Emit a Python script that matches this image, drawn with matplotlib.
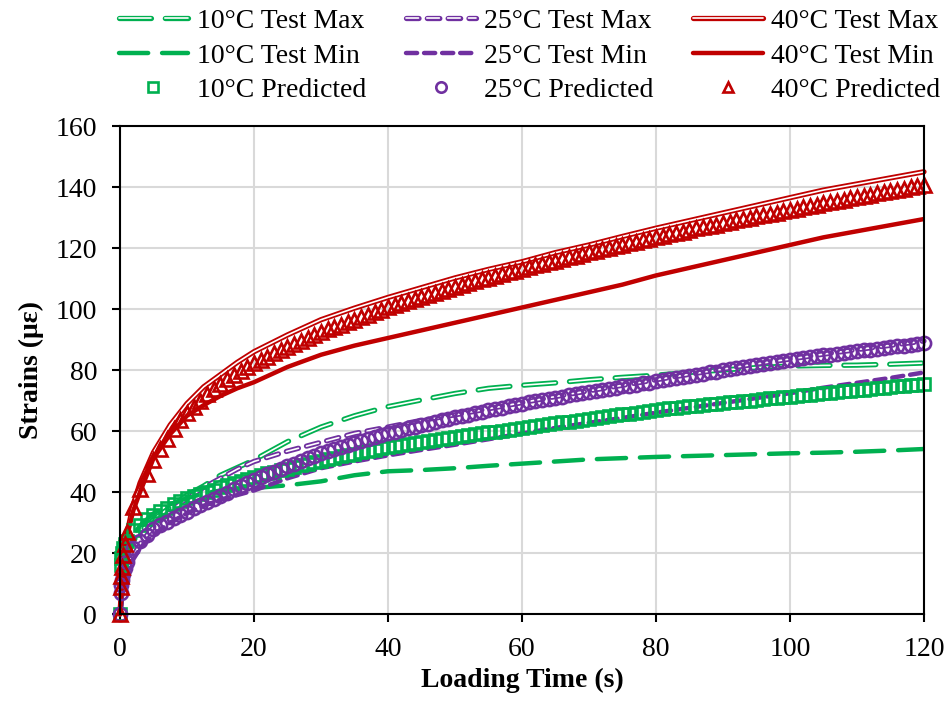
import numpy as np
import matplotlib
matplotlib.use("Agg")
import matplotlib.pyplot as plt

plt.rcParams['font.family'] = ['Liberation Serif', 'DejaVu Serif']
plt.rcParams['lines.scale_dashes'] = False

# test curves (s, microstrain)
t_test = [0, 0.5, 1, 2, 3, 5, 7.5, 10, 12.5, 15, 17.5, 20, 25, 30, 35, 40, 45, 50,
          55, 60, 65, 70, 75, 80, 85, 90, 95, 100, 105, 110, 115, 120]

max10 = [0, 14, 19, 24, 27, 31, 35, 39, 42, 45.5, 48, 50.5, 56.5, 61.3, 65, 68, 70.2, 72.3,
         74, 75, 75.8, 76.8, 77.6, 78.3, 79.2, 80, 80.8, 81.3, 81.5, 81.6, 81.9, 82.3]
min10 = [0, 15, 20, 26, 29, 33, 36, 38, 39.5, 40.5, 41, 41.3, 42.2, 43.5, 45.5, 46.8, 47.2, 47.8,
         48.6, 49.3, 50, 50.7, 51.1, 51.5, 51.8, 52.1, 52.4, 52.7, 52.9, 53.2, 53.6, 54.1]
max25 = [0, 10, 14, 19, 23, 28.5, 33.5, 38, 41.5, 44.5, 47.5, 50, 53.4, 56.3, 59.2, 61.3, 63.5, 65.3,
         67.3, 69.3, 71.3, 73.2, 75, 76.8, 78.6, 80.3, 82, 83.6, 85.2, 86.7, 88.1, 89.5]
min25 = [0, 9, 13, 18, 21.5, 26, 30, 33, 35.5, 37.5, 39, 40.5, 44.5, 47.8, 50, 52, 53.8, 55.5,
         57.3, 59.2, 61, 62.7, 64.3, 66, 67.6, 69.2, 70.8, 72.4, 74.2, 75.8, 77.4, 79.2]
max40 = [0, 18, 26, 36, 43, 53, 62, 69, 74.5, 78.5, 82.5, 86, 91.5, 96.5, 100.3, 103.8, 107, 110.2,
         113, 115.5, 118.5, 121, 123.8, 126.5, 129, 131.5, 134, 136.5, 139, 141, 143, 145]
min40 = [0, 17, 25, 34, 40, 51, 59, 65, 68.5, 71.5, 74, 76, 81, 85, 88, 90.5, 93, 95.5,
         98, 100.5, 103, 105.5, 108, 111, 113.5, 116, 118.5, 121, 123.5, 125.5, 127.5, 129.5]

# predicted curves
t_pred = [0, 0.1, 0.2, 0.3, 0.5, 0.7] + list(range(1, 121))

pred10 = [0, 16, 18.5, 20, 21.5, 23,
          24, 27.5, 29.3, 31, 32.5, 33.7, 34.8, 36.0, 37.0, 38.0,
          38.7, 39.4, 40.1, 40.8, 41.5, 42.2, 42.9, 43.6, 44.3, 45.0,
          45.5, 46.1, 46.6, 47.1, 47.7, 48.2, 48.7, 49.2, 49.8, 50.3,
          50.8, 51.2, 51.7, 52.1, 52.6, 53.0, 53.5, 53.9, 54.4, 54.8,
          55.1, 55.5, 55.8, 56.1, 56.5, 56.8, 57.1, 57.4, 57.8, 58.1,
          58.4, 58.7, 59.0, 59.3, 59.6, 59.8, 60.1, 60.4, 60.7, 61.0,
          61.3, 61.6, 61.9, 62.2, 62.5, 62.8, 63.1, 63.4, 63.7, 64.0,
          64.3, 64.6, 64.9, 65.2, 65.5, 65.7, 66.0, 66.3, 66.6, 66.9,
          67.1, 67.4, 67.6, 67.8, 68.1, 68.3, 68.5, 68.7, 69.0, 69.2,
          69.4, 69.6, 69.8, 70.0, 70.3, 70.5, 70.7, 70.9, 71.1, 71.3,
          71.5, 71.7, 71.9, 72.1, 72.4, 72.6, 72.8, 73.0, 73.2, 73.4,
          73.6, 73.8, 74.0, 74.2, 74.4, 74.6, 74.8, 75.0, 75.2, 75.4]

pred25 = [0, 7, 9.5, 11, 13, 15,
          17, 21.5, 24, 26, 28, 29.2, 30.3, 31.4, 32.4, 33.5,
          34.6, 35.6, 36.7, 37.7, 38.8, 39.8, 40.9, 41.9, 43.0, 44.0,
          44.9, 45.8, 46.6, 47.5, 48.4, 49.3, 50.2, 51.0, 51.9, 52.8,
          53.5, 54.1, 54.8, 55.4, 56.1, 56.7, 57.4, 58.0, 58.7, 59.3,
          59.8, 60.3, 60.9, 61.4, 61.9, 62.4, 62.9, 63.5, 64.0, 64.5,
          65.0, 65.4, 65.9, 66.3, 66.8, 67.2, 67.7, 68.1, 68.6, 69.0,
          69.4, 69.8, 70.1, 70.5, 70.9, 71.3, 71.7, 72.0, 72.4, 72.8,
          73.2, 73.5, 73.9, 74.2, 74.6, 74.9, 75.2, 75.6, 75.9, 76.3,
          76.7, 77.0, 77.4, 77.7, 78.1, 78.5, 78.8, 79.2, 79.5, 79.9,
          80.2, 80.6, 80.9, 81.3, 81.6, 81.9, 82.3, 82.6, 83.0, 83.3,
          83.6, 83.9, 84.2, 84.5, 84.8, 85.0, 85.3, 85.6, 85.9, 86.2,
          86.5, 86.7, 87.0, 87.2, 87.5, 87.8, 88.0, 88.3, 88.5, 88.8]

pred40 = [0, 9, 12.5, 15.5, 19.5, 23,
          27, 35, 41, 46, 50.5, 54, 57.5, 60.5, 63.5, 66,
          68, 70, 72, 73.8, 75.5, 77, 78.5, 79.8, 81, 82.2,
          83.3, 84.4, 85.5, 86.5, 87.6, 88.6, 89.6, 90.6, 91.6, 92.5,
          93.3, 94.1, 94.9, 95.7, 96.5, 97.3, 98.1, 98.9, 99.7, 100.5,
          101.2, 101.9, 102.5, 103.2, 103.9, 104.6, 105.3, 105.9, 106.6, 107.3,
          107.9, 108.5, 109.1, 109.7, 110.3, 110.8, 111.4, 112.0, 112.6, 113.2,
          113.7, 114.3, 114.8, 115.4, 115.9, 116.4, 117.0, 117.5, 118.1, 118.6,
          119.1, 119.6, 120.1, 120.6, 121.1, 121.6, 122.1, 122.6, 123.1, 123.6,
          124.1, 124.5, 125.0, 125.4, 125.9, 126.4, 126.8, 127.3, 127.7, 128.2,
          128.6, 129.1, 129.5, 129.9, 130.4, 130.8, 131.2, 131.6, 132.1, 132.5,
          132.9, 133.3, 133.8, 134.2, 134.6, 135.0, 135.4, 135.9, 136.3, 136.7,
          137.1, 137.5, 137.9, 138.3, 138.7, 139.1, 139.5, 139.9, 140.3, 140.7]

green = '#00B050'
purple = '#7030A0'
red = '#C00000'

fig = plt.figure(figsize=(9.5, 7.06), dpi=100)
ax = fig.add_axes([0.1263, 0.1303, 0.8463, 0.6912])


def double_line(x, y, color, dashes=None):
    # coloured line with a thin white core
    kw = dict(solid_capstyle='round', dash_capstyle='round', clip_on=False)
    outer, = ax.plot(x, y, color=color, lw=3.8, **kw)
    inner, = ax.plot(x, y, color='white', lw=1.2, **kw)
    if dashes is not None:
        outer.set_dashes(dashes)
        inner.set_dashes(dashes)
    return (outer, inner)


h_max10 = double_line(t_test, max10, green, (23, 10))
h_max25 = double_line(t_test, max25, purple, (9, 6))
h_max40 = double_line(t_test, max40, red)

h_min10, = ax.plot(t_test, min10, color=green, lw=3.2, dashes=(21, 10), dash_capstyle='round')
h_min25, = ax.plot(t_test, min25, color=purple, lw=3.2, dashes=(8, 5), dash_capstyle='round')
h_min40, = ax.plot(t_test, min40, color=red, lw=3.2, solid_capstyle='round')

mk = dict(ls='none', mfc='none', mew=1.9, clip_on=False)
h_p10, = ax.plot(t_pred, pred10, marker='s', ms=9, color=green, **mk)
h_p25, = ax.plot(t_pred, pred25, marker='o', ms=9.5, color=purple, **mk)
h_p40, = ax.plot(t_pred, pred40, marker='^', ms=10, color=red, **mk)

ax.set_xlim(0, 120)
ax.set_ylim(0, 160)
ax.set_xticks(range(0, 121, 20))
ax.set_yticks(range(0, 161, 20))
ax.grid(True, color='#D9D9D9', lw=1.5)
ax.set_axisbelow(True)
for s in ax.spines.values():
    s.set_linewidth(1.5)
ax.tick_params(direction='out', length=5.5, width=1.5, labelsize=20, pad=11)

ax.set_xlabel('Loading Time (s)', fontsize=20, fontweight='bold', labelpad=4)
ax.set_ylabel('Strains (με)', fontsize=20, fontweight='bold', labelpad=8)

handles = [h_max10, h_min10, h_p10, h_max25, h_min25, h_p25, h_max40, h_min40, h_p40]
labels = ['10°C Test Max', '10°C Test Min', '10°C Predicted',
          '25°C Test Max', '25°C Test Min', '25°C Predicted',
          '40°C Test Max', '40°C Test Min', '40°C Predicted']
leg = fig.legend(handles, labels, ncol=3, loc='upper left', bbox_to_anchor=(0.125, 0.988),
                 frameon=False, fontsize=20, handlelength=2.5, handletextpad=0.3,
                 columnspacing=1.45, labelspacing=0.33, borderpad=0, borderaxespad=0)
for h in leg.legend_handles:
    if hasattr(h, 'set_markersize'):
        h.set_markersize(7.5)

fig.savefig('out.png', dpi=100)
